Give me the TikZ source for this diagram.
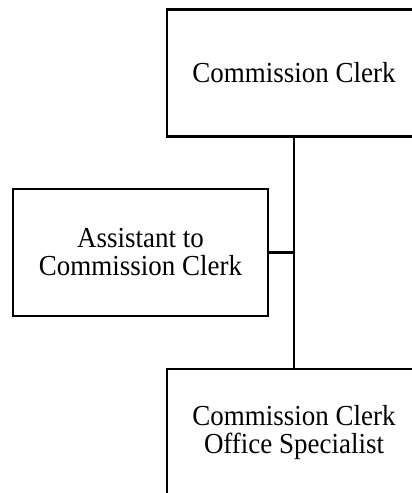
\documentclass[tikz,border=0pt]{standalone}
\usepackage{fontspec}
\setmainfont{Liberation Serif}[FakeStretch=0.93]
\begin{document}
\begin{tikzpicture}[x=1pt,y=-1pt,
  orgbox/.style={draw=black, line width=2.2pt, fill=white, inner sep=0pt,
    minimum width=254pt, minimum height=127pt, align=center,
    font=\fontsize{29pt}{28pt}\selectfont},
  link/.style={draw=black, line width=2.2pt}]
  \useasboundingbox (0,0) rectangle (412,493);
  \clip (0,0) rectangle (412,493);
  \fill[white] (0,0) rectangle (412,493);
  % positions of the three posts
  \node[orgbox] (clerk) at (294,73) {Commission Clerk};
  \node[orgbox, minimum width=255pt] (assistant) at (140.5,252.5) {Assistant to\\Commission Clerk};
  \node[orgbox] (specialist) at (294,432.5) {Commission Clerk\\Office Specialist};
  % reporting lines
  \draw[link] (clerk.south) -- (specialist.north);
  \draw[link] (assistant.east) -- (assistant.east -| clerk.south);
\end{tikzpicture}
\end{document}
